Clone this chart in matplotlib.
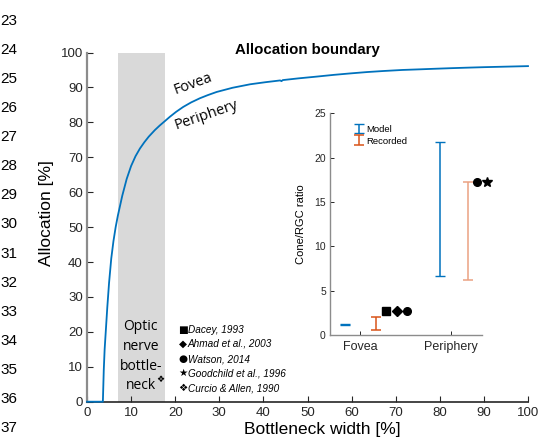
import matplotlib
matplotlib.use("Agg")
import matplotlib.pyplot as plt

# ---------------- data ----------------
line_numbers = list(range(23, 38))

width_pct = [0, 3.6, 3.8, 4.0, 4.3, 4.6, 5.0, 5.5, 6.0, 6.5, 7.0, 8.0, 9.0, 10.0,
             11.0, 12.0, 13.0, 14.0, 15.4, 16.5, 17.7, 18.8, 20.2, 21.8, 23.6,
             25.6, 27.4, 29.4, 33.0, 37.0, 40.5, 43.8, 44.1, 44.4, 48.0, 52.1,
             56.0, 59.6, 63.5, 67.2, 71.5, 75.9, 79.0, 82.3, 86.0, 90.0, 95.0, 100]
alloc_pct = [0, 0, 9, 15, 21, 27, 34, 41, 46, 50, 53.3, 59, 63.8, 67.5,
             70.3, 72.5, 74.3, 75.9, 77.8, 79.1, 80.4, 81.6, 83.0, 84.4, 85.7,
             86.9, 87.8, 88.7, 89.9, 90.9, 91.5, 92.0, 91.8, 92.1, 92.6, 93.1,
             93.6, 94.0, 94.4, 94.7, 95.0, 95.2, 95.35, 95.5, 95.65, 95.8, 95.95, 96.1]
bottleneck_span = (7.0, 17.7)
x_ticks = [0, 10, 20, 30, 40, 50, 60, 70, 80, 90, 100]
y_ticks = [0, 10, 20, 30, 40, 50, 60, 70, 80, 90, 100]

citations = ["Dacey, 1993", "Ahmad et al., 2003", "Watson, 2014",
             "Goodchild et al., 1996", "Curcio & Allen, 1990"]
citation_symbols = ["\u25A0", "\u25C6", "\u25CF", "\u2605", "\u2756"]

inset_categories = ["Fovea", "Periphery"]
inset_cat_pos = [1, 2]
model_x = [0.833, 1.88]
model_low = [1.1, 6.7]
model_high = [1.2, 21.8]
recorded_x = [1.17, 2.18]
recorded_low = [0.56, 6.2]
recorded_high = [2.0, 17.3]
fovea_lit_x = [1.28, 1.40, 1.51]
fovea_lit_y = [2.7, 2.65, 2.65]
fovea_lit_markers = ["s", "D", "o"]
periph_lit_x = [2.28, 2.39]
periph_lit_y = [17.3, 17.3]
periph_lit_markers = ["o", "*"]
inset_y_ticks = [0, 5, 10, 15, 20, 25]

BLUE = "#0072BD"
ORANGE = "#D95319"
SALMON = "#EBA282"
SANS = ["Liberation Sans", "DejaVu Sans"]

plt.rcParams["font.family"] = SANS

fig = plt.figure(figsize=(5.4, 4.41), dpi=100)
W, H = 540, 441

# line numbers of the source document
for n in line_numbers:
    fig.text(0.0, 1 - (21 + (n - 23) * 29.07) / H, str(n), ha="left", va="center",
             fontsize=11, color="black")

# ---------------- main axes ----------------
ax = fig.add_axes([87 / W, 1 - 401.7 / H, 441 / W, 349.2 / H])
ax.axvspan(bottleneck_span[0], bottleneck_span[1], ymin=0, ymax=1,
           color="#D9D9D9", lw=0, zorder=0)
ax.plot(width_pct, alloc_pct, color=BLUE, lw=1.3, zorder=3, clip_on=False,
        solid_joinstyle="round")
ax.set_xlim(0, 100)
ax.set_ylim(0, 100)
ax.set_xticks(x_ticks)
ax.set_yticks(y_ticks)
for s in ["top", "right"]:
    ax.spines[s].set_visible(False)
ax.spines["left"].set_color("#8C8C8C")
ax.spines["left"].set_linewidth(1.6)
ax.spines["bottom"].set_color("#262626")
ax.spines["bottom"].set_linewidth(1.2)
ax.tick_params(direction="in", length=4, width=0.8, labelsize=9.5,
               colors="#262626", pad=3)
ax.tick_params(axis="x", pad=4)
ax.set_xlabel("Bottleneck width [%]", fontsize=12.5)
ax.xaxis.set_label_coords(0.533, -0.058)
ax.set_ylabel("Allocation [%]", fontsize=12.5)
ax.yaxis.set_label_coords(-0.075, 0.54)
ax.text(0.5, 1.007, "Allocation boundary", transform=ax.transAxes, ha="center",
        va="center", fontsize=10.8, fontweight="bold")

# region labels along the curve
ax.text(24.0, 91.0, "Fovea", rotation=20, rotation_mode="anchor", ha="center",
        va="center", fontsize=10.5, family="Open Sans")
ax.text(27.1, 82.2, "Periphery", rotation=19, rotation_mode="anchor", ha="center",
        va="center", fontsize=10.5, family="Open Sans")

# optic nerve bottleneck label
for word, yy in zip(["Optic", "nerve", "bottle-", "neck"], [21.5, 15.8, 10.1, 4.5]):
    ax.text(12.2, yy, word, ha="center", va="center", fontsize=10, family="Open Sans")
ax.text(16.6, 6.3, "\u2756", ha="center", va="center", fontsize=6.5,
        family="DejaVu Sans")

# citation key
for i, (sym, cit) in enumerate(zip(citation_symbols, citations)):
    yy = [20.5, 16.7, 12.2, 8.1, 3.8][i]
    ax.text(21.8, yy, sym, ha="center", va="center", fontsize=7.5,
            family="DejaVu Sans")
    ax.text(22.9, yy, cit, ha="left", va="center", fontsize=7.2, style="italic")

# ---------------- inset ----------------
ai = fig.add_axes([330 / W, 1 - 335 / H, 151.7 / W, 221.7 / H])
ai.patch.set_alpha(0)
colors_rec = [ORANGE, SALMON]
h_model = None
h_rec = None
for i in range(2):
    mid = (model_low[i] + model_high[i]) / 2
    half = (model_high[i] - model_low[i]) / 2
    c = ai.errorbar([model_x[i]], [mid], yerr=[[half], [half]], fmt="none",
                    ecolor=BLUE, elinewidth=1.1, capsize=3.5, capthick=1.0)
    if i == 0:
        h_model = c
    mid = (recorded_low[i] + recorded_high[i]) / 2
    half = (recorded_high[i] - recorded_low[i]) / 2
    c = ai.errorbar([recorded_x[i]], [mid], yerr=[[half], [half]], fmt="none",
                    ecolor=colors_rec[i], elinewidth=1.1, capsize=3.5, capthick=1.1)
    if i == 0:
        h_rec = c
for xx, yy, m in zip(fovea_lit_x, fovea_lit_y, fovea_lit_markers):
    ai.plot([xx], [yy], marker=m, color="black", ms=5.5 if m != "D" else 5,
            ls="none", clip_on=False)
for xx, yy, m in zip(periph_lit_x, periph_lit_y, periph_lit_markers):
    ai.plot([xx], [yy], marker=m, color="black", ms=5.5 if m == "o" else 7,
            ls="none", clip_on=False)

ai.set_xlim(2 / 3, 7 / 3)
ai.set_ylim(0, 25)
ai.set_xticks(inset_cat_pos)
ai.set_xticklabels(inset_categories)
ai.set_yticks(inset_y_ticks)
for s in ["top", "right"]:
    ai.spines[s].set_visible(False)
ai.spines["left"].set_color("#8C8C8C")
ai.spines["bottom"].set_color("#8C8C8C")
ai.spines["left"].set_linewidth(1.0)
ai.spines["bottom"].set_linewidth(1.0)
ai.tick_params(direction="in", length=3, width=0.7, colors="#262626")
ai.tick_params(axis="y", labelsize=7.5, pad=3)
ai.tick_params(axis="x", labelsize=9, pad=4)
ai.set_ylabel("Cone/RGC ratio", fontsize=8)
ai.yaxis.set_label_coords(-0.16, 0.5)
leg = ai.legend(handles=[h_model, h_rec], labels=["Model", "Recorded"],
                loc="upper left", bbox_to_anchor=(0.13, 0.97), frameon=False,
                fontsize=6.8, handlelength=0.9, handletextpad=0.4,
                labelspacing=0.3, borderpad=0)

fig.savefig("out.png", dpi=100)
